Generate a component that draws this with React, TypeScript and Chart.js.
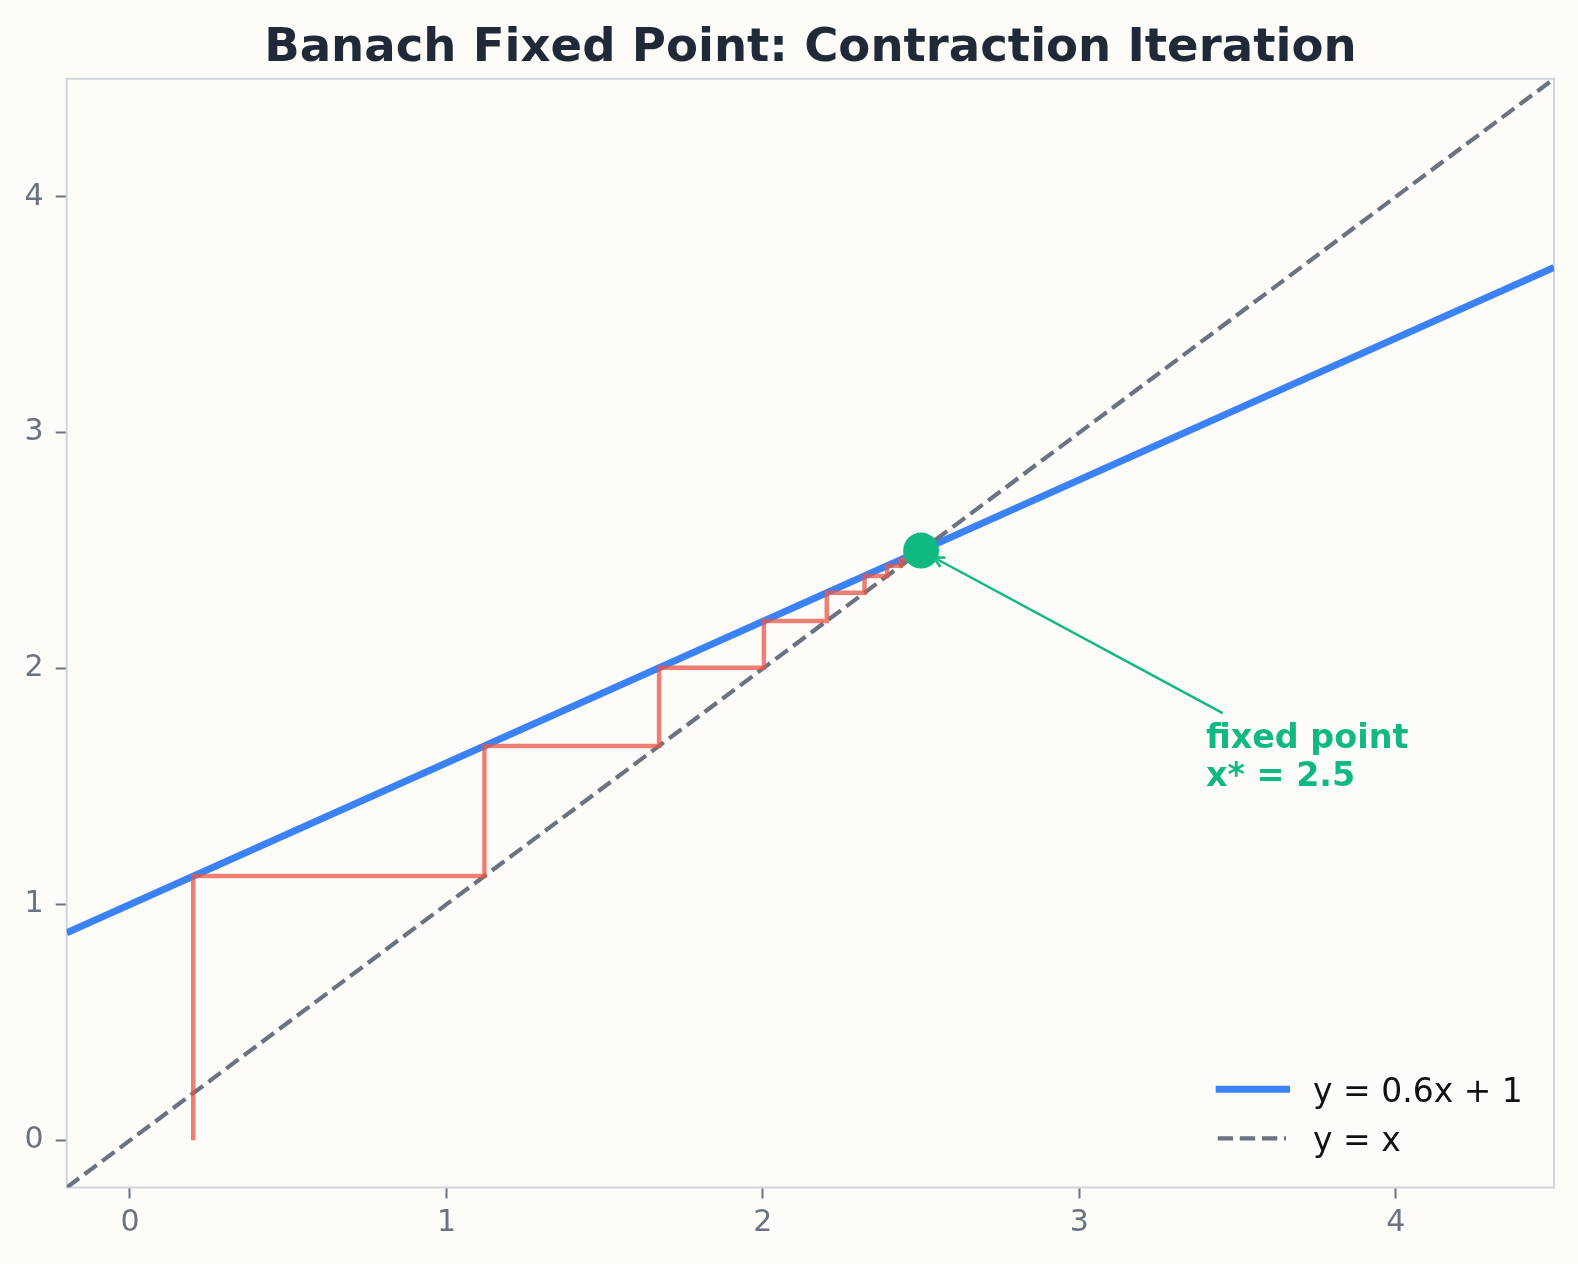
import { useEffect, useRef } from "react";
import { Chart, registerables } from "chart.js";

Chart.register(...registerables);

// ---- data ----
const xRange = [-0.2, 4.5];
const yRange = [-0.2, 4.5];
const xTicks = [0, 1, 2, 3, 4];
const yTicks = [0, 1, 2, 3, 4];
const xTickLabels = ["0", "1", "2", "3", "4"];
const yTickLabels = ["0", "1", "2", "3", "4"];

const mapLineX = [-0.2, 4.5];
const mapLineY = [0.88, 3.7];
const identityX = [-0.2, 4.5];
const identityY = [-0.2, 4.5];

const iterates = [0.2, 1.12, 1.672, 2.0032, 2.20192, 2.321152, 2.392691, 2.435615, 2.461369, 2.476821, 2.486093];
const cobwebStartY = 0;

const fixedPoint = [2.5, 2.5];
const annotationText = ["fixed point", "x* = 2.5"];
const annotationAnchor = [3.4, 1.5];
const arrowTail = [3.453, 1.811];

const legendLabels = ["y = 0.6x + 1", "y = x"];
const titleText = "Banach Fixed Point: Contraction Iteration";

// ---- styles ----
const BG = "#fdfcf9";
const BLUE = "#3b82f6";
const GRAY = "#6b7280";
const RED = "rgba(232, 86, 68, 0.75)";
const GREEN = "#10b981";
const TITLE = "#1f2937";
const SPINE = "#d1d5db";
const FONT = "'DejaVu Sans', sans-serif";

const W = 1578;
const H = 1264;

function zip(xs: number[], ys: number[]) {
  return xs.map((x, i) => ({ x, y: ys[i] }));
}

function cobwebPoints() {
  const pts = [{ x: iterates[0], y: cobwebStartY }];
  for (let k = 0; k < iterates.length - 1; k++) {
    pts.push({ x: iterates[k], y: iterates[k + 1] });
    pts.push({ x: iterates[k + 1], y: iterates[k + 1] });
  }
  return pts;
}

const decorPlugin = {
  id: "decor",
  beforeDraw(chart: any) {
    const ctx = chart.ctx;
    ctx.save();
    ctx.fillStyle = BG;
    ctx.fillRect(0, 0, chart.width, chart.height);
    ctx.restore();
  },
  beforeDatasetsDraw(chart: any) {
    const { ctx, chartArea: a } = chart;
    ctx.save();
    ctx.strokeStyle = SPINE;
    ctx.lineWidth = 2;
    ctx.strokeRect(a.left, a.top, a.right - a.left, a.bottom - a.top);
    ctx.restore();
  },
  afterDatasetsDraw(chart: any) {
    const { ctx, chartArea: a, scales } = chart;
    const xs = scales.x;
    const ys = scales.y;
    ctx.save();

    // arrow
    const tx = xs.getPixelForValue(arrowTail[0]);
    const ty = ys.getPixelForValue(arrowTail[1]);
    const hx0 = xs.getPixelForValue(fixedPoint[0]);
    const hy0 = ys.getPixelForValue(fixedPoint[1]);
    const dx = hx0 - tx;
    const dy = hy0 - ty;
    const len = Math.hypot(dx, dy);
    const ux = dx / len;
    const uy = dy / len;
    const shrink = 14;
    const hx = hx0 - ux * shrink;
    const hy = hy0 - uy * shrink;
    ctx.strokeStyle = GREEN;
    ctx.lineWidth = 2.5;
    ctx.lineCap = "butt";
    ctx.beginPath();
    ctx.moveTo(tx, ty);
    ctx.lineTo(hx, hy);
    ctx.stroke();
    const ang = Math.atan2(uy, ux);
    const arm = 12;
    const spread = 0.45;
    ctx.beginPath();
    ctx.moveTo(hx - arm * Math.cos(ang - spread), hy - arm * Math.sin(ang - spread));
    ctx.lineTo(hx, hy);
    ctx.lineTo(hx - arm * Math.cos(ang + spread), hy - arm * Math.sin(ang + spread));
    ctx.stroke();

    // annotation text
    const ax = xs.getPixelForValue(annotationAnchor[0]);
    const ay = ys.getPixelForValue(annotationAnchor[1]);
    ctx.fillStyle = GREEN;
    ctx.font = `bold 33.4px ${FONT}`;
    ctx.textAlign = "left";
    ctx.textBaseline = "alphabetic";
    const lh = 38.3;
    annotationText.forEach((t, i) => {
      ctx.fillText(t, ax, ay - (annotationText.length - 1 - i) * lh);
    });

    // legend
    const lx0 = 1215.7;
    const lx1 = 1290;
    const rows = [1089.3, 1138.3];
    ctx.lineWidth = 7;
    ctx.strokeStyle = BLUE;
    ctx.beginPath();
    ctx.moveTo(lx0, rows[0]);
    ctx.lineTo(lx1, rows[0]);
    ctx.stroke();
    ctx.lineWidth = 4.2;
    ctx.strokeStyle = GRAY;
    ctx.setLineDash([15.4, 6.7]);
    ctx.beginPath();
    ctx.moveTo(lx0 + 2, rows[1]);
    ctx.lineTo(lx1 - 4, rows[1]);
    ctx.stroke();
    ctx.setLineDash([]);
    ctx.fillStyle = "#111111";
    ctx.font = `33px ${FONT}`;
    legendLabels.forEach((t, i) => {
      ctx.fillText(t, 1313, rows[i] + 12.4);
    });

    // title
    ctx.fillStyle = TITLE;
    ctx.font = `bold 46.6px ${FONT}`;
    ctx.textAlign = "center";
    ctx.fillText(titleText, (a.left + a.right) / 2, 60.7);
    ctx.restore();
  },
};

export default function App() {
  const ref = useRef<HTMLCanvasElement | null>(null);
  useEffect(() => {
    if (!ref.current) return;
    const chart = new Chart(ref.current, {
      type: "scatter",
      data: {
        datasets: [
          {
            label: "fixed point",
            data: [{ x: fixedPoint[0], y: fixedPoint[1] }],
            pointRadius: 18,
            pointHoverRadius: 18,
            backgroundColor: GREEN,
            borderWidth: 0,
            order: 0,
          } as any,
          {
            label: "cobweb",
            data: cobwebPoints(),
            showLine: true,
            borderColor: RED,
            borderWidth: 4.5,
            pointRadius: 0,
            tension: 0,
            borderJoinStyle: "miter",
            order: 1,
          },
          {
            label: legendLabels[1],
            data: zip(identityX, identityY),
            showLine: true,
            borderColor: GRAY,
            borderWidth: 4.2,
            borderDash: [15.4, 6.7],
            pointRadius: 0,
            order: 2,
          },
          {
            label: legendLabels[0],
            data: zip(mapLineX, mapLineY),
            showLine: true,
            borderColor: BLUE,
            borderWidth: 7,
            pointRadius: 0,
            order: 3,
          },
        ],
      },
      options: {
        responsive: false,
        devicePixelRatio: 1,
        animation: false,
        events: [],
        layout: { padding: { left: 0, top: 78.8, right: 24, bottom: 0 } },
        plugins: {
          legend: { display: false },
          tooltip: { enabled: false },
          title: { display: false },
        },
        scales: {
          x: {
            type: "linear",
            min: xRange[0],
            max: xRange[1],
            afterBuildTicks: (s: any) => {
              s.ticks = xTicks.map((v) => ({ value: v }));
            },
            afterFit: (s: any) => {
              s.height = 76.5;
            },
            border: { display: false },
            grid: {
              drawOnChartArea: false,
              drawTicks: true,
              tickLength: 11,
              tickColor: GRAY,
              tickWidth: 2,
            },
            ticks: {
              color: GRAY,
              font: { family: FONT, size: 30 },
              padding: 7,
              callback: (v: any) => {
                const i = xTicks.indexOf(Number(v));
                return i >= 0 ? xTickLabels[i] : "";
              },
            },
          },
          y: {
            type: "linear",
            min: yRange[0],
            max: yRange[1],
            afterBuildTicks: (s: any) => {
              s.ticks = yTicks.map((v) => ({ value: v }));
            },
            afterFit: (s: any) => {
              s.width = 66.7;
            },
            border: { display: false },
            grid: {
              drawOnChartArea: false,
              drawTicks: true,
              tickLength: 11,
              tickColor: GRAY,
              tickWidth: 2,
            },
            ticks: {
              color: GRAY,
              font: { family: FONT, size: 30 },
              padding: 12,
              callback: (v: any) => {
                const i = yTicks.indexOf(Number(v));
                return i >= 0 ? yTickLabels[i] : "";
              },
            },
          },
        },
      },
      plugins: [decorPlugin],
    });
    return () => chart.destroy();
  }, []);

  return (
    <div style={{ position: "absolute", left: 0, top: 0, width: W, height: H, background: BG }}>
      <canvas ref={ref} width={W} height={H} style={{ display: "block", width: W, height: H }} />
    </div>
  );
}
